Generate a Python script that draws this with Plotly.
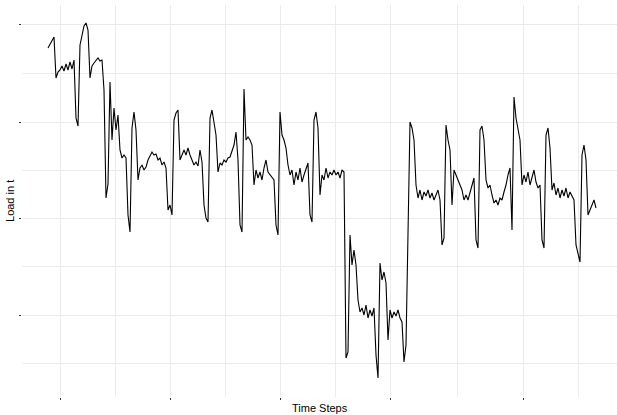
import plotly.graph_objects as go

# Load series (arbitrary units), one value per time step
load = [
    367, 371, 375, 378, 337, 343, 345, 349, 344, 351,
    345, 353, 346, 355, 297, 289, 370, 380, 389, 392,
    385, 337, 349, 352, 355, 357, 354, 355, 325, 217,
    231, 333, 275, 307, 285, 300, 265, 257, 260, 257,
    200, 183, 287, 303, 285, 235, 247, 250, 245, 248,
    255, 259, 263, 260, 261, 255, 257, 250, 253, 247,
    205, 210, 200, 295, 302, 305, 255, 260, 265, 260,
    267, 260, 255, 250, 253, 249, 265, 253, 210, 197,
    193, 297, 305, 290, 280, 243, 252, 250, 255, 253,
    257, 258, 263, 270, 283, 255, 190, 183, 326, 275,
    278, 275, 270, 230, 245, 237, 243, 235, 247, 255,
    243, 240, 237, 235, 190, 180, 303, 280, 275, 267,
    250, 240, 245, 230, 243, 235, 247, 233, 240, 245,
    252, 200, 193, 295, 303, 287, 220, 240, 235, 247,
    237, 243, 240, 245, 240, 243, 237, 245, 243, 57,
    63, 180, 150, 165, 150, 115, 103, 107, 100, 110,
    97, 105, 99, 107, 60, 37, 152, 135, 143, 132,
    75, 105, 97, 103, 99, 105, 97, 93, 53, 70,
    170, 293, 287, 275, 230, 217, 225, 215, 223, 219,
    225, 217, 222, 215, 220, 225, 215, 170, 177, 290,
    275, 265, 210, 245, 240, 235, 230, 225, 215, 220,
    215, 223, 230, 237, 175, 167, 285, 289, 275, 235,
    227, 230, 220, 212, 215, 210, 217, 215, 223, 230,
    240, 247, 185, 318, 297, 285, 275, 230, 240, 233,
    243, 230, 237, 245, 233, 227, 230, 175, 167, 280,
    287, 267, 225, 232, 220, 227, 217, 225, 219, 227,
    217, 223, 219, 215, 170, 160, 153, 260, 270, 255,
    200, 205, 210, 215, 207,
]
time_steps = list(range(len(load)))

# Axis breaks (no labels shown in the original)
x_major_ticks = [6.25, 61.2, 116.1, 171.05, 237.85]
x_minor_ticks = [33.7, 88.65, 143.6, 204.5, 265.35]
y_major_ticks = [100, 196.7, 293, 390.3]
y_minor_ticks = [51.7, 148.3, 244.7, 342]
x_range = [-13, 284.5]
y_range = [18, 410]

GRID = "#ebebeb"

fig = go.Figure()
fig.add_trace(go.Scatter(
    x=time_steps, y=load, mode="lines",
    line=dict(color="black", width=1.1),
    showlegend=False, hoverinfo="skip",
))

fig.update_layout(
    width=617, height=415,
    margin=dict(l=22, r=0, t=5, b=18),
    paper_bgcolor="white", plot_bgcolor="white",
    font=dict(family="Liberation Sans, Arial, sans-serif", size=11, color="black"),
    xaxis=dict(
        range=x_range, tickmode="array", tickvals=x_major_ticks,
        showticklabels=False, ticks="outside", ticklen=2, tickwidth=1, tickcolor="#333333",
        showgrid=True, gridcolor=GRID, gridwidth=1, zeroline=False, showline=False,
        minor=dict(tickmode="array", tickvals=x_minor_ticks, showgrid=True,
                   gridcolor=GRID, gridwidth=1, ticks=""),
    ),
    yaxis=dict(
        range=y_range, tickmode="array", tickvals=y_major_ticks,
        showticklabels=False, ticks="outside", ticklen=2, tickwidth=1, tickcolor="#333333",
        showgrid=True, gridcolor=GRID, gridwidth=1, zeroline=False, showline=False,
        minor=dict(tickmode="array", tickvals=y_minor_ticks, showgrid=True,
                   gridcolor=GRID, gridwidth=1, ticks=""),
    ),
    annotations=[
        dict(text="Time Steps", xref="paper", yref="paper", x=0.5, y=-0.028,
             xanchor="center", yanchor="middle", showarrow=False,
             font=dict(size=11, color="black")),
        dict(text="Load in t", xref="paper", yref="paper", x=-0.0202, y=0.5,
             xanchor="center", yanchor="middle", showarrow=False, textangle=-90,
             font=dict(size=11, color="black")),
    ],
)

fig.write_html(
    "out.html",
    config={"displayModeBar": False},
    post_script="document.body.style.margin='0';document.body.style.overflow='hidden';",
)
